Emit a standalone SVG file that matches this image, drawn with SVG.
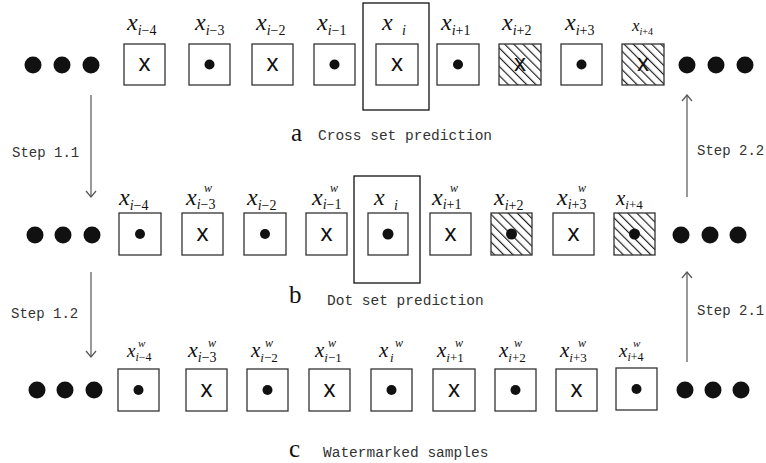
<svg xmlns="http://www.w3.org/2000/svg" width="766" height="463" viewBox="0 0 766 463">
<defs>
<style>
.bx{fill:#fff;stroke:#333;stroke-width:1.3}
.hx{fill:url(#hatch);stroke:#333;stroke-width:1.3}
.big{fill:none;stroke:#111;stroke-width:1.3}
.mk{font-family:"Liberation Sans",Arial,sans-serif;font-size:24px;fill:#111;text-anchor:middle}
.dt{fill:#111}
.lb{font-family:"Liberation Serif","Times New Roman",serif;font-style:italic;fill:#111}
.up{font-style:normal}
.mono{font-family:"Liberation Mono","Courier New",monospace;font-size:14.5px;fill:#333}
.step{font-family:"Liberation Mono","Courier New",monospace;font-size:14px;fill:#333}
.let{font-family:"Liberation Serif","Times New Roman",serif;font-size:25px;fill:#111}
.ar{stroke:#555;stroke-width:1.2;fill:none}
</style>
<pattern id="hatch" width="6.5" height="6.5" patternUnits="userSpaceOnUse" patternTransform="rotate(-45)">
<rect width="6.5" height="6.5" fill="#fff"/>
<line x1="0.6" y1="0" x2="0.6" y2="6.5" stroke="#111" stroke-width="1.1"/>
</pattern>
<marker id="arr" viewBox="-8 -6 10 12" markerWidth="10" markerHeight="12" refX="0" refY="0" orient="auto" markerUnits="userSpaceOnUse">
<path d="M-6,-5 L0,0 L-6,5" fill="none" stroke="#555" stroke-width="1.2"/>
</marker>
</defs>
<rect width="766" height="463" fill="#fff"/>

<g id="connectors">
<line class="ar" x1="91" y1="95" x2="91" y2="197" marker-end="url(#arr)"/>
<line class="ar" x1="91" y1="272" x2="91" y2="357" marker-end="url(#arr)"/>
<line class="ar" x1="687" y1="197" x2="687" y2="95" marker-end="url(#arr)"/>
<line class="ar" x1="687" y1="362" x2="687" y2="272" marker-end="url(#arr)"/>
<text class="step" x="12" y="157">Step 1.1</text>
<text class="step" x="11" y="318">Step 1.2</text>
<text class="step" x="697" y="155">Step 2.2</text>
<text class="step" x="697" y="315">Step 2.1</text>
</g>

<!-- Row a: cross set prediction -->
<g id="row-a">
<g id="a-dots-left"><circle class="dt" cx="33" cy="65" r="8.5"/><circle class="dt" cx="62" cy="65" r="8.5"/><circle class="dt" cx="91" cy="65" r="8.5"/></g>
<g id="a1"><rect class="bx" x="124" y="44" width="41" height="41"/><text class="mk" x="144.5" y="71">x</text>
<text class="lb" x="127" y="30" font-size="24">x<tspan dy="5" font-size="14">i<tspan class="up">−4</tspan></tspan></text></g>
<g id="a2"><rect class="bx" x="189" y="44" width="41" height="41"/><circle class="dt" cx="209.5" cy="64.5" r="5"/>
<text class="lb" x="195" y="30" font-size="24">x<tspan dy="5" font-size="14">i<tspan class="up">−3</tspan></tspan></text></g>
<g id="a3"><rect class="bx" x="252" y="44" width="41" height="41"/><text class="mk" x="272.5" y="71">x</text>
<text class="lb" x="256" y="30" font-size="24">x<tspan dy="5" font-size="14">i<tspan class="up">−2</tspan></tspan></text></g>
<g id="a4"><rect class="bx" x="314" y="44" width="41" height="41"/><circle class="dt" cx="334.5" cy="64.5" r="5"/>
<text class="lb" x="317" y="30" font-size="24">x<tspan dy="5" font-size="14">i<tspan class="up">−1</tspan></tspan></text></g>
<g id="a5"><rect class="big" x="363" y="3" width="66" height="107"/><rect class="bx" x="376" y="44" width="42" height="41"/><text class="mk" x="397" y="71">x</text>
<text class="lb" x="382" y="30" font-size="24">x</text><text class="lb" x="402" y="35" font-size="14">i</text></g>
<g id="a6"><rect class="bx" x="437" y="44" width="42" height="41"/><circle class="dt" cx="458" cy="64.5" r="5"/>
<text class="lb" x="441" y="30" font-size="24">x<tspan dy="5" font-size="14">i<tspan class="up">+1</tspan></tspan></text></g>
<g id="a7"><rect class="hx" x="499" y="44" width="42" height="41"/><text class="mk" x="520" y="71">x</text>
<text class="lb" x="502" y="30" font-size="24">x<tspan dy="5" font-size="14">i<tspan class="up">+2</tspan></tspan></text></g>
<g id="a8"><rect class="bx" x="561" y="44" width="41" height="41"/><circle class="dt" cx="581.5" cy="64.5" r="5"/>
<text class="lb" x="565" y="30" font-size="24">x<tspan dy="5" font-size="14">i<tspan class="up">+3</tspan></tspan></text></g>
<g id="a9"><rect class="hx" x="622" y="44" width="42" height="41"/><text class="mk" x="643" y="71">x</text>
<text class="lb" x="632" y="31" font-size="17">x<tspan dy="4" font-size="10">i<tspan class="up">+4</tspan></tspan></text></g>
<g id="a-dots-right"><circle class="dt" cx="687" cy="65" r="8.5"/><circle class="dt" cx="716" cy="65" r="8.5"/><circle class="dt" cx="745" cy="65" r="8.5"/></g>
<g id="a-caption"><text class="let" x="291" y="141">a</text><text class="mono" x="318" y="140">Cross set prediction</text></g>
</g>

<!-- Row b: dot set prediction -->
<g id="row-b">
<g id="b-dots-left"><circle class="dt" cx="35" cy="235" r="8.5"/><circle class="dt" cx="63" cy="235" r="8.5"/><circle class="dt" cx="92" cy="235" r="8.5"/></g>
<g id="b1"><rect class="bx" x="119" y="213" width="42" height="42"/><circle class="dt" cx="140" cy="234" r="5"/>
<text class="lb" x="119" y="205" font-size="24">x<tspan dy="5" font-size="14">i<tspan class="up">−4</tspan></tspan></text></g>
<g id="b2"><rect class="bx" x="182" y="213" width="41" height="42"/><text class="mk" x="202.5" y="241">x</text>
<text class="lb" x="186" y="205" font-size="24">x<tspan dy="4" font-size="14">i<tspan class="up">−3</tspan></tspan></text><text class="lb" x="204" y="192" font-size="12">w</text></g>
<g id="b3"><rect class="bx" x="244" y="213" width="42" height="42"/><circle class="dt" cx="265" cy="234" r="5"/>
<text class="lb" x="247" y="205" font-size="24">x<tspan dy="5" font-size="14">i<tspan class="up">−2</tspan></tspan></text></g>
<g id="b4"><rect class="bx" x="306" y="213" width="41" height="42"/><text class="mk" x="326.5" y="241">x</text>
<text class="lb" x="312" y="205" font-size="24">x<tspan dy="4" font-size="14">i<tspan class="up">−1</tspan></tspan></text><text class="lb" x="330" y="192" font-size="12">w</text></g>
<g id="b5"><rect class="big" x="354" y="176" width="66" height="107"/><rect class="bx" x="368" y="213" width="40" height="42"/><circle class="dt" cx="388" cy="234" r="5.5"/>
<text class="lb" x="374" y="205" font-size="24">x</text><text class="lb" x="394" y="210" font-size="14">i</text></g>
<g id="b6"><rect class="bx" x="430" y="213" width="41" height="42"/><text class="mk" x="450.5" y="241">x</text>
<text class="lb" x="432" y="205" font-size="24">x<tspan dy="4" font-size="14">i<tspan class="up">+1</tspan></tspan></text><text class="lb" x="450" y="192" font-size="12">w</text></g>
<g id="b7"><rect class="hx" x="491" y="213" width="41" height="42"/><circle class="dt" cx="511.5" cy="234" r="5.5"/>
<text class="lb" x="494" y="205" font-size="24">x<tspan dy="5" font-size="14">i<tspan class="up">+2</tspan></tspan></text></g>
<g id="b8"><rect class="bx" x="553" y="213" width="41" height="42"/><text class="mk" x="573.5" y="241">x</text>
<text class="lb" x="557" y="205" font-size="24">x<tspan dy="4" font-size="14">i<tspan class="up">+3</tspan></tspan></text><text class="lb" x="578" y="192" font-size="12">w</text></g>
<g id="b9"><rect class="hx" x="614" y="213" width="41" height="42"/><circle class="dt" cx="634.5" cy="234" r="5.5"/>
<text class="lb" x="616" y="205" font-size="21">x<tspan dy="4" font-size="13">i<tspan class="up">+4</tspan></tspan></text></g>
<g id="b-dots-right"><circle class="dt" cx="681" cy="235" r="8.5"/><circle class="dt" cx="710" cy="235" r="8.5"/><circle class="dt" cx="738" cy="235" r="8.5"/></g>
<g id="b-caption"><text class="let" x="289" y="303">b</text><text class="mono" x="327" y="305">Dot set prediction</text></g>
</g>

<!-- Row c: watermarked samples -->
<g id="row-c">
<g id="c-dots-left"><circle class="dt" cx="37" cy="390" r="8.5"/><circle class="dt" cx="65" cy="390" r="8.5"/><circle class="dt" cx="94" cy="390" r="8.5"/></g>
<g id="c1"><rect class="bx" x="118" y="369" width="41" height="42"/><circle class="dt" cx="138.5" cy="390" r="5"/>
<text class="lb" x="127" y="357" font-size="19">x<tspan dy="4" font-size="12">i<tspan class="up">−4</tspan></tspan></text><text class="lb" x="138" y="347" font-size="11">w</text></g>
<g id="c2"><rect class="bx" x="186" y="369" width="41" height="42"/><text class="mk" x="206.5" y="397">x</text>
<text class="lb" x="188" y="357" font-size="22">x<tspan dy="5" font-size="14">i<tspan class="up">−3</tspan></tspan></text><text class="lb" x="208" y="347" font-size="12">w</text></g>
<g id="c3"><rect class="bx" x="247" y="369" width="41" height="42"/><circle class="dt" cx="267.5" cy="390" r="5"/>
<text class="lb" x="251" y="357" font-size="21">x<tspan dy="5" font-size="13">i<tspan class="up">−2</tspan></tspan></text><text class="lb" x="265" y="347" font-size="12">w</text></g>
<g id="c4"><rect class="bx" x="309" y="369" width="41" height="42"/><text class="mk" x="329.5" y="397">x</text>
<text class="lb" x="315" y="357" font-size="21">x<tspan dy="5" font-size="13">i<tspan class="up">−1</tspan></tspan></text><text class="lb" x="328" y="347" font-size="12">w</text></g>
<g id="c5"><rect class="bx" x="371" y="369" width="41" height="42"/><circle class="dt" cx="391.5" cy="390" r="5"/>
<text class="lb" x="379" y="357" font-size="21">x</text><text class="lb" x="390" y="362" font-size="13">i</text><text class="lb" x="395" y="347" font-size="12">w</text></g>
<g id="c6"><rect class="bx" x="433" y="369" width="42" height="42"/><text class="mk" x="454" y="397">x</text>
<text class="lb" x="437" y="357" font-size="21">x<tspan dy="5" font-size="13">i<tspan class="up">+1</tspan></tspan></text><text class="lb" x="455" y="347" font-size="12">w</text></g>
<g id="c7"><rect class="bx" x="495" y="369" width="41" height="42"/><circle class="dt" cx="515.5" cy="390" r="5"/>
<text class="lb" x="499" y="357" font-size="21">x<tspan dy="5" font-size="13">i<tspan class="up">+2</tspan></tspan></text><text class="lb" x="514" y="347" font-size="12">w</text></g>
<g id="c8"><rect class="bx" x="556" y="369" width="41" height="42"/><text class="mk" x="576.5" y="397">x</text>
<text class="lb" x="560" y="357" font-size="21">x<tspan dy="5" font-size="13">i<tspan class="up">+3</tspan></tspan></text><text class="lb" x="578" y="347" font-size="12">w</text></g>
<g id="c9"><rect class="bx" x="616" y="368" width="41" height="42"/><circle class="dt" cx="636.5" cy="389" r="5"/>
<text class="lb" x="619" y="357" font-size="19">x<tspan dy="4" font-size="12">i<tspan class="up">+4</tspan></tspan></text><text class="lb" x="633" y="347" font-size="11">w</text></g>
<g id="c-dots-right"><circle class="dt" cx="685" cy="390" r="8.5"/><circle class="dt" cx="713" cy="390" r="8.5"/><circle class="dt" cx="741" cy="390" r="8.5"/></g>
<g id="c-caption"><text class="let" x="289" y="457">c</text><text class="mono" x="323" y="457">Watermarked samples</text></g>
</g>
</svg>
